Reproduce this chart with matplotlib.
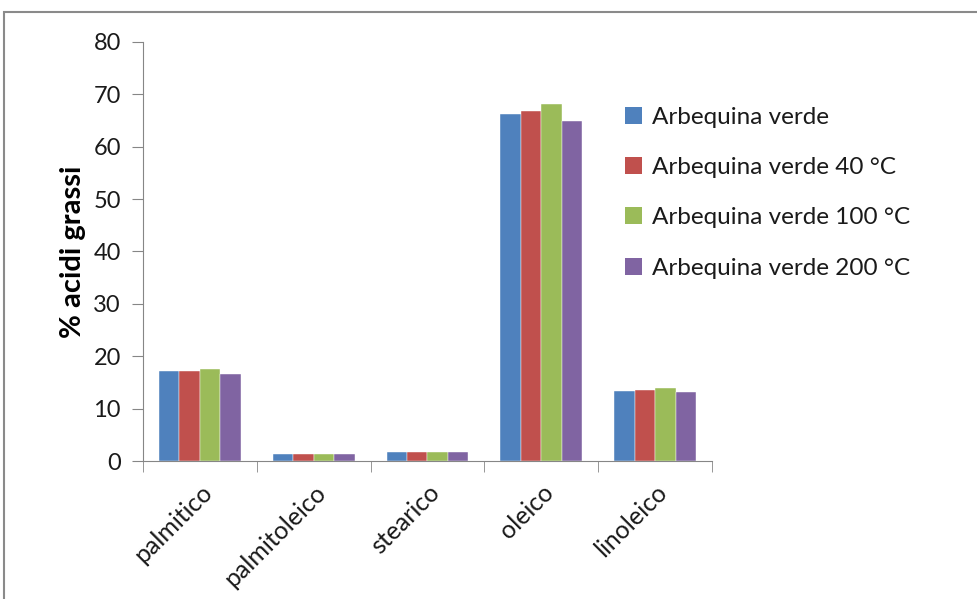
import matplotlib
matplotlib.use("Agg")
import matplotlib.pyplot as plt
import numpy as np
from matplotlib.patches import Rectangle, Patch

categories = ["palmitico", "palmitoleico", "stearico", "oleico", "linoleico"]
series_names = ["Arbequina verde", "Arbequina verde 40 °C",
                "Arbequina verde 100 °C", "Arbequina verde 200 °C"]
verde = [17.1, 1.4, 1.65, 66.2, 13.4]
verde_40 = [17.1, 1.4, 1.65, 66.9, 13.6]
verde_100 = [17.6, 1.4, 1.65, 68.1, 13.9]
verde_200 = [16.6, 1.4, 1.65, 64.9, 13.1]
series_values = [verde, verde_40, verde_100, verde_200]
colors = ["#4F81BD", "#C0504D", "#9BBB59", "#8064A2"]
y_ticks = [0, 10, 20, 30, 40, 50, 60, 70, 80]

plt.rcParams["font.family"] = ["Lato", "DejaVu Sans"]
axis_gray = "#868686"
text_color = "#1a1a1a"

fig = plt.figure(figsize=(9.77, 5.99), dpi=100)
ax = fig.add_axes([143 / 977, 1 - 461 / 599, (712 - 143) / 977, (461 - 42) / 599])

# outer chart frame
fig.patches.append(Rectangle((4 / 977, -0.1), 1.2, 1 - 12 / 599 + 0.1,
                             transform=fig.transFigure, fill=False,
                             edgecolor="#8a8a8a", linewidth=1.5))

x = np.arange(len(categories))
width = 0.18
for i, (vals, col, name) in enumerate(zip(series_values, colors, series_names)):
    ax.bar(x + (i - 1.5) * width, vals, width, color=col, label=name,
           edgecolor="white", linewidth=0.3)

ax.set_xlim(-0.5, len(categories) - 0.5)
ax.set_ylim(0, 80)
ax.set_yticks(y_ticks)
ax.tick_params(axis="y", labelsize=17, length=8, color=axis_gray, pad=8,
               labelcolor=text_color)
ax.set_xticks(x)
ax.set_xticklabels(categories, rotation=45, ha="right", rotation_mode="anchor",
                   fontsize=18, color=text_color)
ax.tick_params(axis="x", length=0, pad=14)
ax.set_xticks(np.arange(-0.5, len(categories)), minor=True)
ax.tick_params(axis="x", which="minor", length=8, color=axis_gray)

for side in ["top", "right"]:
    ax.spines[side].set_visible(False)
for side in ["left", "bottom"]:
    ax.spines[side].set_color(axis_gray)

ax.set_ylabel("% acidi grassi", fontsize=21, fontweight="bold", labelpad=5,
              color="black")

handles = [Patch(facecolor=c, edgecolor="none") for c in colors]
fig.legend(handles, series_names, loc="upper left",
           bbox_to_anchor=(625 / 977, 1 - 107 / 599), frameon=False,
           fontsize=17.5, handlelength=0.7, handleheight=0.7, handletextpad=0.4,
           labelspacing=1.2, borderpad=0, borderaxespad=0,
           labelcolor=text_color)

fig.savefig("out.png", dpi=100)
